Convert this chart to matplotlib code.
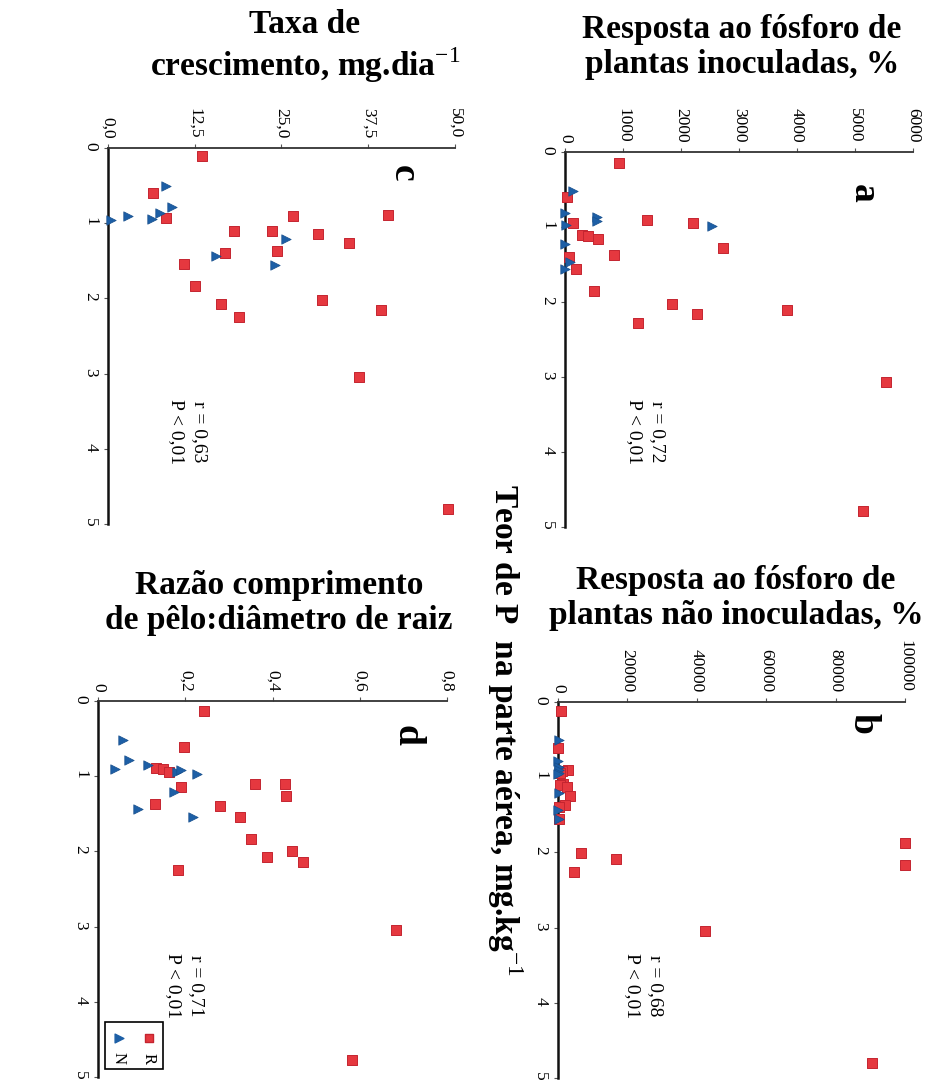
import numpy as np
import matplotlib.pyplot as plt
from matplotlib.patches import Rectangle

plt.rcParams['font.family'] = ['Liberation Serif', 'DejaVu Serif']
plt.rcParams['mathtext.fontset'] = 'custom'
plt.rcParams['mathtext.rm'] = 'Liberation Serif'
plt.rcParams['mathtext.bf'] = 'Liberation Serif:bold'

W, H = 928, 1083

# a) resposta ao fosforo, plantas inoculadas (%)
a_teor_R = [0.14, 0.60, 0.95, 0.91, 0.94, 1.11, 1.12, 1.16, 1.28, 1.37, 1.40, 1.56, 1.85, 2.28, 2.03, 2.16, 2.11, 3.06, 4.79]
a_val_R = [937, 29, 143, 1409, 2213, 300, 400, 563, 2730, 845, 75, 190, 505, 1264, 1840, 2282, 3834, 5535, 5145]
a_teor_N = [0.52, 0.81, 0.87, 0.92, 0.97, 0.99, 1.22, 1.46, 1.56]
a_val_N = [132, 0, 546, 546, 20, 2530, 0, 86, 0]

# b) resposta ao fosforo, plantas nao inoculadas (%)
b_teor_R = [0.12, 0.61, 0.90, 0.92, 0.94, 1.09, 1.11, 1.13, 1.25, 1.37, 1.40, 1.55, 1.87, 2.01, 2.09, 2.17, 2.26, 3.05, 4.80]
b_val_R = [800, 100, 2800, 1200, 500, 1500, 600, 2600, 3500, 2100, 300, 200, 100000, 6600, 16800, 100000, 4600, 42300, 90400]
b_teor_N = [0.51, 0.78, 0.86, 0.91, 0.94, 0.96, 1.21, 1.44, 1.55]
b_val_N = [200, 100, 300, 150, 400, 100, 200, 100, 150]

# c) taxa de crescimento (mg/dia)
c_teor_R = [0.11, 0.60, 0.93, 0.91, 0.89, 1.10, 1.11, 1.14, 1.26, 1.37, 1.39, 1.54, 1.84, 2.08, 2.25, 2.02, 2.15, 3.05, 4.80]
c_val_R = [13.6, 6.5, 8.4, 26.6, 40.4, 18.2, 23.7, 30.2, 34.7, 24.3, 16.9, 10.9, 12.6, 16.3, 18.9, 30.9, 39.3, 36.1, 49.0]
c_teor_N = [0.51, 0.78, 0.86, 0.94, 0.91, 0.96, 1.21, 1.44, 1.55]
c_val_N = [8.3, 9.2, 7.5, 6.4, 2.9, 0.5, 25.6, 15.6, 24.0]

# d) razao comprimento de pelo : diametro de raiz
d_teor_R = [0.13, 0.61, 0.89, 0.91, 0.95, 1.14, 1.11, 1.10, 1.26, 1.39, 1.37, 1.54, 1.84, 2.08, 2.00, 2.14, 2.25, 3.05, 4.78]
d_val_R = [0.242, 0.197, 0.132, 0.150, 0.162, 0.190, 0.360, 0.429, 0.430, 0.280, 0.131, 0.326, 0.351, 0.388, 0.445, 0.469, 0.184, 0.683, 0.583]
d_teor_N = [0.52, 0.78, 0.90, 0.85, 0.94, 0.92, 0.97, 1.21, 1.44, 1.54]
d_val_N = [0.058, 0.070, 0.039, 0.115, 0.180, 0.190, 0.226, 0.175, 0.091, 0.217]

panels = [
    # letter, box (left, right, top, bottom) px, xmax, ticks, tick labels, title, r text
    ('a', (565, 913, 152, 527), 6000, [0, 1000, 2000, 3000, 4000, 5000, 6000],
     ['0', '1000', '2000', '3000', '4000', '5000', '6000'],
     'Resposta ao fósforo de\nplantas inoculadas, %', (742, 47), 'r = 0,72\nP < 0,01', (646, 432),
     a_teor_R, a_val_R, a_teor_N, a_val_N),
    ('b', (558, 905, 702, 1078), 100000, [0, 20000, 40000, 60000, 80000, 100000],
     ['0', '20000', '40000', '60000', '80000', '100000'],
     'Resposta ao fósforo de\nplantas não inoculadas, %', (736, 598), 'r = 0,68\nP < 0,01', (644, 986),
     b_teor_R, b_val_R, b_teor_N, b_val_N),
    ('c', (108, 455, 148, 524), 50, [0, 12.5, 25, 37.5, 50],
     ['0,0', '12,5', '25,0', '37,5', '50,0'],
     'Taxa de\ncrescimento, mg.dia$^{-1}$', (305, 47), 'r = 0,63\nP < 0,01', (188, 432),
     c_teor_R, c_val_R, c_teor_N, c_val_N),
    ('d', (98, 447, 701, 1077), 0.8, [0, 0.2, 0.4, 0.6, 0.8],
     ['0', '0,2', '0,4', '0,6', '0,8'],
     'Razão comprimento\nde pêlo:diâmetro de raiz', (279, 603), 'r = 0,71\nP < 0,01', (185, 986),
     d_teor_R, d_val_R, d_teor_N, d_val_N),
]

red = '#e5383f'
blue = '#1d5fa6'

fig = plt.figure(figsize=(W / 100, H / 100), dpi=100)

for (letter, box, xmax, ticks, ticklabels, title, tpos, rtext, rpos,
     teor_R, val_R, teor_N, val_N) in panels:
    L, R, T, B = box
    ax = fig.add_axes([L / W, 1 - B / H, (R - L) / W, (B - T) / H])
    ax.scatter(val_R, teor_R, marker='s', s=46, color=red, edgecolor='#c42530',
               linewidth=0.7, zorder=3, clip_on=False)
    ax.scatter(val_N, teor_N, marker='>', s=46, color=blue, edgecolor='#174f8c',
               linewidth=0.5, zorder=4, clip_on=False)
    ax.set_xlim(0, xmax)
    ax.set_ylim(5, 0)
    ax.set_xticks(ticks)
    ax.set_xticklabels(ticklabels)
    ax.set_yticks(range(6))
    ax.xaxis.tick_top()
    ax.spines['right'].set_visible(False)
    ax.spines['bottom'].set_visible(False)
    ax.spines['left'].set_linewidth(1.8)
    ax.spines['left'].set_color('#111111')
    ax.spines['top'].set_linewidth(1.3)
    ax.spines['top'].set_color('#333333')
    ax.tick_params(axis='both', labelrotation=-90, labelsize=12.5, length=3,
                   width=0.8, color='#555555', pad=4)
    ax.set_facecolor('none')

    fig.text(tpos[0] / W, 1 - tpos[1] / H, title, ha='center', va='center',
             fontsize=24, fontweight='bold', linespacing=1.15)
    lx = {'a': 863, 'b': 863, 'c': 403, 'd': 407}[letter]
    ly = {'a': 193, 'b': 723, 'c': 173, 'd': 735}[letter]
    fig.text(lx / W, 1 - ly / H, letter, ha='center', va='center', rotation=-90,
             fontsize=27, fontweight='bold')
    fig.text(rpos[0] / W, 1 - rpos[1] / H, rtext, ha='center', va='center',
             rotation=-90, fontsize=14, linespacing=1.45)

    if letter == 'd':
        # legend box drawn sideways, like the rest of the figure
        ax.add_patch(Rectangle((0.02, 0.02), 0.165, 0.125, transform=ax.transAxes,
                               fill=False, edgecolor='black', linewidth=1.2, zorder=5))
        ax.scatter([0.145], [0.105], marker='s', s=40, color=red, edgecolor='#c42530',
                   transform=ax.transAxes, zorder=6, clip_on=False)
        ax.scatter([0.06], [0.105], marker='>', s=40, color=blue,
                   transform=ax.transAxes, zorder=6, clip_on=False)
        ax.text(0.145, 0.05, 'R', transform=ax.transAxes, rotation=-90,
                ha='center', va='center', fontsize=12)
        ax.text(0.06, 0.05, 'N', transform=ax.transAxes, rotation=-90,
                ha='center', va='center', fontsize=12)

fig.text(505 / W, 1 - 730 / H, 'Teor de P  na parte aérea, mg.kg$^{-1}$',
         ha='center', va='center', rotation=-90, fontsize=24, fontweight='bold')

fig.savefig('out.png', dpi=100)
